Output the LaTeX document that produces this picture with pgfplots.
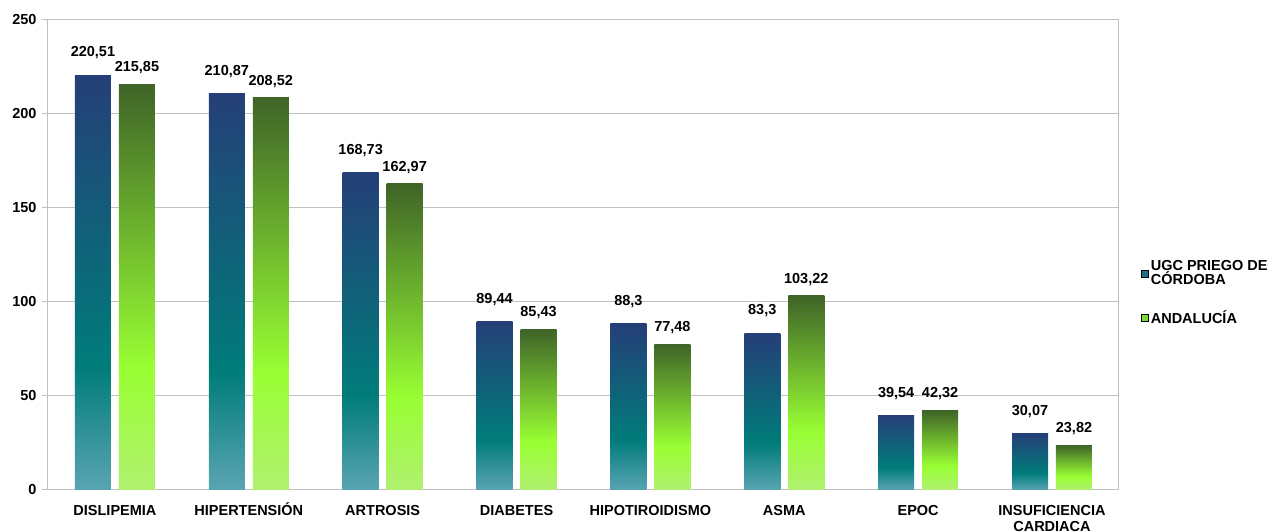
\documentclass[border=0pt]{standalone}
\usepackage{fontspec}
\setmainfont{Liberation Sans}
\usepackage{pgfplots}
\usepackage{pgfplotstable}
\pgfplotsset{compat=1.18}

\definecolor{blutop}{HTML}{253F78}
\definecolor{blumid}{HTML}{007C7A}
\definecolor{blubot}{HTML}{5AA4B3}
\definecolor{grntop}{HTML}{3F6428}
\definecolor{grnmid}{HTML}{99FF33}
\definecolor{grnbot}{HTML}{B0F070}
\definecolor{legblu}{HTML}{1A6E86}
\definecolor{leggrn}{HTML}{80D838}
\definecolor{gridgray}{HTML}{C0C0C0}

% bars: light at the foot, bright at about 30%, dark at the top
\pgfdeclareverticalshading{blubar}{100bp}{color(0bp)=(blubot); color(25bp)=(blubot);
  color(40bp)=(blumid); color(75bp)=(blutop); color(100bp)=(blutop)}
\pgfdeclareverticalshading{grnbar}{100bp}{color(0bp)=(grnbot); color(25bp)=(grnbot);
  color(40bp)=(grnmid); color(75bp)=(grntop); color(100bp)=(grntop)}

\pgfplotstableread{
x y lab
0 220.51 220,51
1 210.87 210,87
2 168.73 168,73
3 89.44 89,44
4 88.3 88,3
5 83.3 83,3
6 39.54 39,54
7 30.07 30,07
}\ugc
\pgfplotstableread{
x y lab
0 215.85 215,85
1 208.52 208,52
2 162.97 162,97
3 85.43 85,43
4 77.48 77,48
5 103.22 103,22
6 42.32 42,32
7 23.82 23,82
}\andalucia

\begin{document}
\begin{tikzpicture}[font=\fontsize{14.5}{16}\selectfont\bfseries]
\useasboundingbox (-48pt,-42pt) rectangle (1228pt,490pt);
\begin{axis}[
at={(0,0)}, anchor=south west,
scale only axis,
width=1071pt, height=470pt,
xmin=-0.5, xmax=7.5,
ymin=0, ymax=250,
ytick={0,50,...,250},
xtick={0,...,7},
xticklabels={DISLIPEMIA,HIPERTENSI\smash{Ó}N,ARTROSIS,DIABETES,HIPOTIROIDISMO,ASMA,EPOC,{INSUFICIENCIA\\CARDIACA}},
xticklabel style={align=center, yshift=-6pt},
extra x ticks={0.5,1.5,...,6.5},
extra x tick labels={},
extra x tick style={major tick length=7pt, tick style={gridgray, line width=1pt}, xtick pos=bottom},
major x tick style={draw=none},
ytick style={gridgray, line width=1pt},
major tick length=6pt,
tick align=outside,
xtick pos=bottom, ytick pos=left,
ymajorgrids,
grid style={gridgray, line width=1pt},
axis line style={gridgray, line width=1pt},
axis x line*=bottom,
separate axis lines,
every outer y axis line/.style={gridgray, line width=1pt},
/pgf/number format/assume math mode=true,
yticklabel style={xshift=-2pt},
legend style={at={(1.018,0.42)}, anchor=west, draw=none, fill=none,
  legend cell align=left, row sep=20pt, font=\fontsize{14.5}{14}\selectfont\bfseries},
legend image code/.code={\fill[#1] (0pt,-3.5pt) rectangle (7pt,3.5pt);},
]
% one plot per bar, so that each bar gets its own gradient
\pgfplotsinvokeforeach{0,...,7}{
\addplot[ybar, bar width=36pt, bar shift=0pt, shading=blubar, draw=none,
  forget plot, restrict expr to domain={\thisrow{x}}{#1:#1},
  nodes near coords, point meta=explicit symbolic,
  every node near coord/.append style={anchor=south, inner sep=0pt, yshift=16pt, black}]
  table[x expr=\thisrow{x}-0.1643, y=y, meta=lab] {\ugc};
\addplot[ybar, bar width=36pt, bar shift=0pt, shading=grnbar, draw=none,
  forget plot, restrict expr to domain={\thisrow{x}}{#1:#1},
  nodes near coords, point meta=explicit symbolic,
  every node near coord/.append style={anchor=south, inner sep=0pt, yshift=10pt, black}]
  table[x expr=\thisrow{x}+0.1643, y=y, meta=lab] {\andalucia};
}
\addlegendimage{fill=legblu}
\addlegendentry[align=left]{UGC PRIEGO DE\\CÓRDOBA}
\addlegendimage{fill=leggrn}
\addlegendentry{ANDALUCÍA}
\draw[gridgray, line width=1pt] (rel axis cs:1,0) -- (rel axis cs:1,1);
\end{axis}
\end{tikzpicture}
\end{document}
